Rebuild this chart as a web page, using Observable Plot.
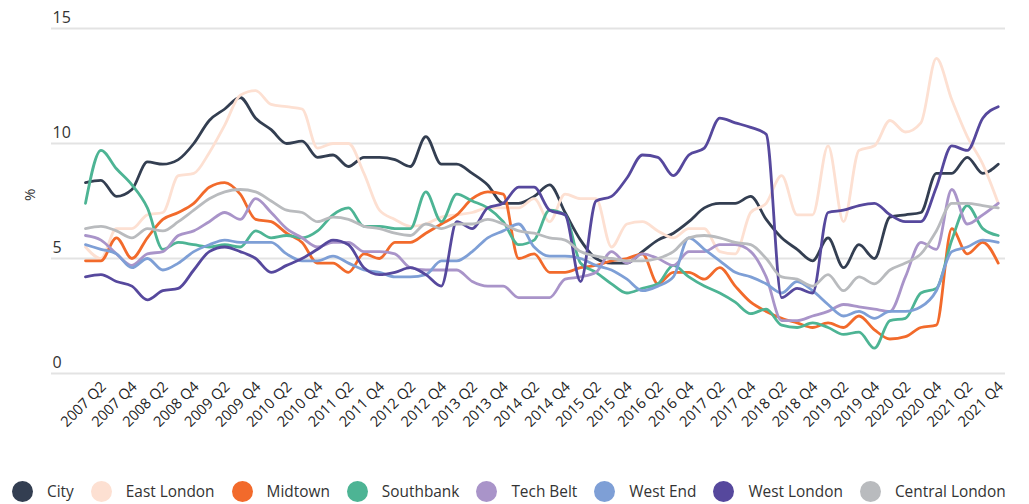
<!DOCTYPE html>
<html>
<head>
<meta charset="utf-8">
<script src="https://cdn.jsdelivr.net/npm/d3@7"></script>
<script src="https://cdn.jsdelivr.net/npm/@observablehq/plot@0.6"></script>
<style>
  html, body { margin: 0; padding: 0; background: #fff; }
  body { width: 1029px; height: 504px; overflow: hidden; font-family: "Open Sans", sans-serif; }
  #chart svg { display: block; }
  .legend { display: flex; align-items: center; height: 22px; margin-top: 2px; padding-left: 12px; font-size: 15.4px; color: #333; }
  .legend .item { display: flex; align-items: center; margin-right: 17px; white-space: nowrap; }
  .legend .dot { width: 21px; height: 21px; border-radius: 50%; margin-right: 14px; }
</style>
</head>
<body>
<div id="chart"></div>
<div class="legend" id="legend"></div>
<script>
const seriesNames = ["City", "East London", "Midtown", "Southbank", "Tech Belt", "West End", "West London", "Central London"];
const seriesColors = ["#333e51", "#fde0d2", "#f26a2b", "#4db494", "#a994c9", "#7e9fd6", "#56489d", "#b9bbbe"];

const years = [2007, 2008, 2009, 2010, 2011, 2012, 2013, 2014, 2015, 2016, 2017, 2018, 2019, 2020, 2021];
const quarters = years.flatMap(y => ["Q1", "Q2", "Q3", "Q4"].map(q => `${y} ${q}`));
const tickLabels = quarters.filter(q => q.endsWith("Q2") || q.endsWith("Q4"));
const yTicks = [0, 5, 10, 15];

const city = [8.3, 8.4, 7.7, 8.0, 9.2, 9.1, 9.3, 10.0, 11.0, 11.5, 12.0, 11.1, 10.6, 10.0, 10.1, 9.4, 9.5, 9.0, 9.4, 9.4,
  9.3, 9.0, 10.3, 9.1, 9.1, 8.7, 8.2, 7.4, 7.4, 7.7, 8.2, 7.0, 5.8, 5.0, 4.8, 4.8, 5.3, 5.8, 6.1, 6.6,
  7.2, 7.4, 7.4, 7.7, 6.7, 5.9, 5.4, 4.9, 5.9, 4.6, 5.6, 5.0, 6.8, 6.9, 7.0, 8.7, 8.7, 9.4, 8.7, 9.1];
const eastLondon = [5.5, 5.0, 6.3, 6.3, 6.9, 7.0, 8.6, 8.7, 9.6, 10.8, 12.1, 12.3, 11.7, 11.6, 11.5, 9.8, 10.0, 10.0, 8.7, 7.1,
  6.7, 6.4, 6.5, 6.8, 6.9, 7.0, 7.2, 7.2, 7.2, 7.6, 6.6, 7.8, 7.6, 7.6, 5.5, 6.5, 6.6, 6.2, 5.9, 6.3,
  6.3, 5.3, 5.2, 7.0, 7.4, 8.6, 6.9, 6.9, 9.9, 6.6, 9.7, 9.9, 11.0, 10.5, 10.9, 13.7, 11.9, 10.3, 9.1, 7.4];
const midtown = [4.9, 4.9, 5.9, 5.0, 5.9, 6.7, 7.0, 7.4, 8.1, 8.3, 7.8, 6.7, 6.6, 6.1, 5.7, 4.8, 4.8, 4.4, 5.2, 5.0,
  5.7, 5.7, 6.1, 6.5, 6.9, 7.6, 7.9, 7.8, 5.0, 5.2, 4.4, 4.4, 4.6, 4.7, 4.9, 5.0, 5.2, 3.9, 4.4, 4.4,
  4.1, 4.6, 3.8, 3.1, 2.7, 2.4, 2.2, 2.0, 2.2, 2.0, 2.5, 1.9, 1.5, 1.6, 2.0, 2.1, 6.3, 5.2, 5.7, 4.8];
const southbank = [7.4, 9.7, 8.9, 8.2, 7.2, 5.4, 5.7, 5.6, 5.5, 5.6, 5.5, 6.2, 5.9, 6.0, 5.9, 6.2, 6.9, 7.2, 6.4, 6.4,
  6.3, 6.3, 7.9, 6.6, 7.8, 7.5, 7.2, 6.6, 5.6, 5.8, 7.1, 6.9, 4.8, 4.4, 3.9, 3.5, 3.7, 3.9, 4.7, 4.2,
  3.8, 3.5, 3.1, 2.6, 2.8, 2.1, 2.0, 2.2, 2.0, 1.7, 1.8, 1.1, 2.3, 2.4, 3.5, 3.7, 5.8, 7.3, 6.3, 6.0];
const techBelt = [6.0, 5.8, 5.2, 4.7, 5.2, 5.3, 6.0, 6.2, 6.6, 7.0, 6.7, 7.6, 7.0, 6.3, 5.9, 5.5, 5.7, 5.7, 5.3, 5.3,
  5.2, 4.6, 4.5, 4.5, 4.5, 4.0, 3.8, 3.8, 3.3, 3.3, 3.3, 4.1, 4.2, 4.4, 5.3, 4.8, 5.2, 5.0, 4.7, 5.3,
  5.3, 5.6, 5.6, 5.3, 4.2, 2.3, 2.3, 2.5, 2.7, 3.0, 2.9, 2.8, 2.7, 4.2, 5.7, 5.4, 8.0, 6.5, 6.9, 7.4];
const westEnd = [5.6, 5.4, 5.2, 4.6, 5.0, 4.5, 4.8, 5.3, 5.6, 5.8, 5.7, 5.7, 5.7, 5.2, 4.9, 4.9, 5.1, 4.8, 4.5, 4.4,
  4.2, 4.2, 4.3, 4.9, 4.9, 5.3, 5.9, 6.2, 6.5, 5.5, 5.1, 5.1, 5.0, 4.7, 4.5, 4.1, 3.6, 3.8, 4.2, 5.9,
  5.4, 4.9, 4.4, 4.2, 3.9, 3.5, 4.0, 3.6, 3.0, 2.5, 2.7, 2.4, 2.7, 2.7, 2.9, 3.6, 5.3, 5.5, 5.8, 5.7];
const westLondon = [4.2, 4.3, 4.0, 3.8, 3.2, 3.6, 3.7, 4.5, 5.3, 5.5, 5.3, 5.0, 4.4, 4.7, 5.0, 5.4, 5.8, 5.6, 4.6, 4.3,
  4.4, 4.6, 4.3, 3.8, 6.6, 6.3, 7.2, 7.4, 8.1, 8.1, 7.1, 6.9, 4.0, 7.5, 7.7, 8.5, 9.5, 9.4, 8.6, 9.5,
  9.8, 11.1, 10.9, 10.7, 10.4, 3.3, 3.7, 3.5, 7.0, 7.1, 7.3, 7.4, 6.9, 6.6, 6.6, 8.1, 9.9, 9.7, 11.1, 11.6];
const centralLondon = [6.3, 6.4, 6.2, 5.9, 6.3, 6.2, 6.6, 7.1, 7.6, 7.9, 8.0, 7.9, 7.5, 7.1, 7.0, 6.6, 6.8, 6.7, 6.4, 6.3,
  6.1, 6.0, 6.5, 6.3, 6.5, 6.5, 6.7, 6.5, 6.2, 6.1, 5.9, 5.8, 5.3, 5.1, 5.0, 4.9, 4.9, 5.0, 5.3, 5.9,
  6.0, 5.9, 5.7, 5.6, 5.0, 4.2, 4.1, 3.8, 4.3, 3.6, 4.2, 3.9, 4.5, 4.8, 5.2, 6.2, 7.4, 7.4, 7.3, 7.2];

const seriesValues = [city, eastLondon, midtown, southbank, techBelt, westEnd, westLondon, centralLondon];

const data = seriesNames.flatMap((name, k) =>
  seriesValues[k].map((v, i) => ({ s: name, i, q: quarters[i], v })));

const tickIdx = tickLabels.map(l => quarters.indexOf(l));

const chart = Plot.plot({
  width: 1029,
  height: 478,
  marginLeft: 51,
  marginRight: 24,
  marginTop: 28,
  marginBottom: 105,
  x: { type: "linear", domain: [-2.198, 59.47], axis: null },
  y: { domain: [0, 15], axis: null },
  color: { domain: seriesNames, range: seriesColors },
  style: { fontFamily: "'Open Sans', sans-serif", background: "#fff", color: "#333" },
  marks: [
    Plot.ruleY(yTicks, { y: d => d, stroke: "#e3e3e3", strokeWidth: 2 }),
    Plot.text(yTicks, { y: d => d, text: d => String(d), frameAnchor: "left", textAnchor: "start", dx: 1, dy: -11, fontSize: 16, fill: "#333" }),
    Plot.text(["%"], { frameAnchor: "left", dx: -21, dy: 0, rotate: -90, text: d => d, fontSize: 15, fill: "#333" }),
    Plot.lineY(data, { x: "i", y: "v", z: "s", stroke: "s", strokeWidth: 2.8, curve: "monotone-x" }),
    Plot.text(tickIdx, { x: d => d, text: d => quarters[d], frameAnchor: "bottom", rotate: -45, textAnchor: "end", lineAnchor: "bottom", dx: 6, dy: 14, fontSize: 14.6, fill: "#222" })
  ]
});
document.getElementById("chart").appendChild(chart);

const legend = document.getElementById("legend");
seriesNames.forEach((name, k) => {
  const item = document.createElement("div");
  item.className = "item";
  const dot = document.createElement("span");
  dot.className = "dot";
  dot.style.background = seriesColors[k];
  const label = document.createElement("span");
  label.textContent = name;
  item.appendChild(dot);
  item.appendChild(label);
  legend.appendChild(item);
});
</script>
</body>
</html>
